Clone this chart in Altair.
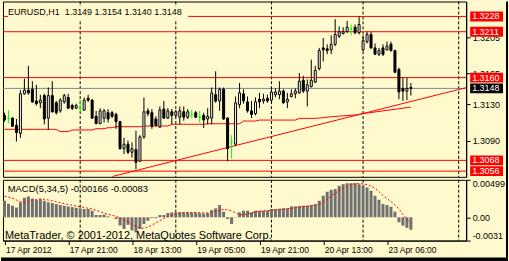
import altair as alt
import pandas as pd

# ---------------- data ----------------
bars = list(range(103))  # hourly bars from 17 Apr 05:00

opens = [1.3118,1.3115,1.3115,1.3107,1.3098,1.3142,1.3146,1.3147,1.3134,1.3132,
         1.3140,1.3115,1.3140,1.3132,1.3123,1.3133,1.3138,1.3129,1.3126,1.3126,
         1.3124,1.3137,1.3135,1.3117,1.3109,1.3115,1.3121,1.3121,1.3119,1.3111,
         1.3081,1.3086,1.3077,1.3080,1.3067,1.3094,1.3123,1.3121,1.3114,1.3105,
         1.3125,1.3115,1.3122,1.3118,1.3116,1.3122,1.3116,1.3119,1.3121,1.3116,
         1.3118,1.3114,1.3115,1.3141,1.3134,1.3147,1.3115,1.3088,1.3086,1.3130,
         1.3142,1.3133,1.3123,1.3120,1.3136,1.3134,1.3137,1.3135,1.3141,1.3141,
         1.3145,1.3133,1.3139,1.3142,1.3143,1.3157,1.3145,1.3150,1.3155,1.3170,
         1.3193,1.3192,1.3191,1.3197,1.3206,1.3209,1.3211,1.3214,1.3216,1.3210,
         1.3191,1.3200,1.3208,1.3193,1.3186,1.3193,1.3191,1.3197,1.3190,1.3169,
         1.3148,1.3145,1.3149]
highs = [1.3121,1.3124,1.3116,1.3114,1.3146,1.3159,1.3173,1.3156,1.3152,1.3141,
         1.3142,1.3149,1.3156,1.3134,1.3137,1.3142,1.3142,1.3131,1.3131,1.3135,
         1.3138,1.3141,1.3136,1.3123,1.3126,1.3125,1.3125,1.3123,1.3121,1.3112,
         1.3093,1.3090,1.3088,1.3101,1.3096,1.3138,1.3126,1.3125,1.3117,1.3128,
         1.3134,1.3126,1.3125,1.3124,1.3128,1.3128,1.3125,1.3124,1.3123,1.3123,
         1.3121,1.3126,1.3149,1.3167,1.3149,1.3149,1.3116,1.3096,1.3139,1.3154,
         1.3147,1.3139,1.3134,1.3138,1.3143,1.3142,1.3141,1.3149,1.3148,1.3156,
         1.3147,1.3143,1.3147,1.3148,1.3165,1.3162,1.3158,1.3180,1.3173,1.3193,
         1.3204,1.3197,1.3207,1.3225,1.3217,1.3216,1.3223,1.3219,1.3219,1.3228,
         1.3207,1.3211,1.3211,1.3198,1.3193,1.3197,1.3200,1.3200,1.3191,1.3171,
         1.3160,1.3160,1.3154]
lows = [1.3111,1.3109,1.3105,1.3089,1.3093,1.3141,1.3141,1.3132,1.3129,1.3126,
        1.3108,1.3102,1.3121,1.3119,1.3121,1.3131,1.3125,1.3124,1.3125,1.3122,
        1.3123,1.3133,1.3114,1.3108,1.3108,1.3110,1.3110,1.3115,1.3103,1.3080,
        1.3075,1.3075,1.3071,1.3058,1.3066,1.3092,1.3117,1.3103,1.3106,1.3104,
        1.3114,1.3114,1.3108,1.3116,1.3108,1.3112,1.3114,1.3115,1.3115,1.3110,
        1.3104,1.3108,1.3108,1.3132,1.3123,1.3113,1.3067,1.3070,1.3084,1.3126,
        1.3131,1.3121,1.3115,1.3118,1.3126,1.3131,1.3132,1.3132,1.3138,1.3136,
        1.3131,1.3126,1.3138,1.3137,1.3142,1.3143,1.3128,1.3149,1.3154,1.3168,
        1.3178,1.3186,1.3186,1.3195,1.3204,1.3208,1.3210,1.3207,1.3208,1.3208,
        1.3189,1.3198,1.3192,1.3185,1.3184,1.3184,1.3190,1.3189,1.3165,1.3136,
        1.3134,1.3135,1.3140]
closes = [1.3113,1.3115,1.3106,1.3099,1.3142,1.3146,1.3143,1.3133,1.3131,1.3135,
          1.3114,1.3140,1.3122,1.3121,1.3135,1.3140,1.3126,1.3126,1.3129,1.3126,
          1.3135,1.3135,1.3115,1.3109,1.3123,1.3123,1.3114,1.3117,1.3111,1.3081,
          1.3086,1.3077,1.3081,1.3066,1.3094,1.3122,1.3120,1.3106,1.3107,1.3124,
          1.3115,1.3123,1.3118,1.3122,1.3123,1.3116,1.3122,1.3119,1.3116,1.3116,
          1.3113,1.3117,1.3143,1.3134,1.3147,1.3114,1.3081,1.3088,1.3132,1.3143,
          1.3134,1.3123,1.3119,1.3133,1.3133,1.3136,1.3134,1.3144,1.3144,1.3145,
          1.3132,1.3136,1.3142,1.3145,1.3156,1.3145,1.3152,1.3157,1.3168,1.3190,
          1.3191,1.3190,1.3197,1.3208,1.3211,1.3211,1.3216,1.3214,1.3210,1.3219,
          1.3201,1.3208,1.3193,1.3186,1.3190,1.3186,1.3195,1.3190,1.3166,1.3144,
          1.3145,1.3148,1.3148]

ma_values = ([1.31025] * 14 + [1.31000] * 3 + [1.31018] * 6 + [1.31032] * 3 +
             [1.31043] * 2 + [1.31054] * 7 + [1.31062] * 7 + [1.31081] * 9 +
             [1.31087] * 9 + [1.31117] * 4 + [1.31128] * 10 + [1.31147] * 5 +
             [1.31150, 1.31155, 1.31160, 1.31165, 1.31168, 1.31172, 1.31175,
              1.31178, 1.31181, 1.31184, 1.31190] +
             [1.31200, 1.31206, 1.31212, 1.31218, 1.31224, 1.31230, 1.31236,
              1.31242, 1.31248, 1.31254, 1.31260, 1.31266, 1.31272])

# MACD histogram and signal, in thousandths
macd_hist_milli = [2.2,1.8,1.55,1.3,2.0,2.6,2.78,2.5,2.33,2.42,
                   2.2,2.0,1.9,1.76,1.63,1.54,1.45,1.36,1.27,1.19,
                   1.1,1.1,0.87,0.3,0.3,0.35,0.12,0.02,-0.23,-1.1,
                   -1.55,-1.0,-1.75,-2.0,-1.55,-0.89,-0.45,-0.12,-0.12,0.3,
                   0.3,0.57,0.65,0.65,0.68,0.65,0.65,0.62,0.6,0.55,
                   0.5,0.55,0.96,1.19,1.63,0.74,-0.23,-0.89,-0.05,0.65,
                   0.87,0.87,0.65,0.87,0.87,0.9,0.9,1.1,1.1,1.15,
                   1.2,1.2,1.45,1.45,1.5,1.54,1.54,1.63,1.76,2.2,
                   2.87,3.4,3.66,3.75,4.19,4.41,4.54,4.54,4.54,4.41,
                   4.19,3.97,3.53,2.87,2.33,1.76,1.63,1.4,0.75,-0.67,
                   -1.11,-1.4,-1.66]
macd_signal_milli = [2.8,2.7,2.55,2.3,2.1,2.0,2.1,2.25,2.35,2.45,
                     2.4,2.3,2.2,2.05,1.95,1.8,1.7,1.6,1.5,1.4,
                     1.3,1.2,1.1,0.95,0.75,0.55,0.4,0.25,0.15,-0.1,
                     -0.35,-0.6,-0.9,-1.2,-1.45,-1.45,-1.3,-1.05,-0.75,-0.45,
                     -0.15,0.1,0.3,0.45,0.55,0.6,0.65,0.65,0.63,0.62,
                     0.6,0.57,0.65,0.75,0.95,1.05,1.0,0.85,0.6,0.35,
                     0.3,0.45,0.6,0.75,0.8,0.85,0.9,0.93,0.97,1.02,
                     1.08,1.13,1.2,1.28,1.35,1.42,1.48,1.53,1.6,1.75,
                     2.0,2.4,2.8,3.2,3.55,3.9,4.15,4.35,4.45,4.5,
                     4.45,4.35,4.15,3.85,3.4,2.9,2.5,2.1,1.65,1.1,
                     0.4,-0.2,-0.83]

level_prices = [1.3228, 1.3211, 1.3160, 1.3068, 1.3056]
bid_price = 1.3148
separator_bars = [19, 43, 67, 90, 114]
trend_bars = [27, 116]
trend_prices = [1.3050, 1.3149]
price_ticks = [1.3205, 1.3165, 1.3130, 1.3090]
macd_ticks = [4.99, 0.0, -3.1]
macd_tick_labels = ["0.00499", "0.00", "-0.0031"]
x_tick_bars = [0, 16, 32, 48, 64, 80, 96]
x_tick_labels = ["17 Apr 2012", "17 Apr 21:00", "18 Apr 13:00", "19 Apr 05:00",
                 "19 Apr 21:00", "20 Apr 13:00", "23 Apr 06:00"]
macd_last = [-0.00166, -0.00083]
symbol = "EURUSD,H1"
copyright_text = "MetaTrader, \u00a9 2001-2012, MetaQuotes Software Corp."

# ---------------- styling ----------------
BG = "#FFFACD"
RED = "#FF0000"
FN = "Liberation Sans, Arial, sans-serif"
W, H_MAIN, H_MACD = 465, 176, 61

xs = alt.Scale(domain=[-0.375, 115.875], nice=False, zero=False)
ys = alt.Scale(domain=[1.30497, 1.32446], nice=False, zero=False)
ms = alt.Scale(domain=[-3.1, 4.99], nice=False, zero=False)

yax = alt.Axis(orient="right", values=price_ticks, format=".4f", tickSize=4,
               labelPadding=2, grid=False, title=None, domainColor="black",
               tickColor="black", labelColor="black", labelFont=FN,
               labelFontSize=9, labelFlush=False)
arr = lambda vals: "[" + ",".join(repr(v) for v in vals) + "]"
may = alt.Axis(orient="right", values=macd_ticks, tickSize=4, labelPadding=2,
               grid=False, title=None, domainColor="black", tickColor="black",
               labelColor="black", labelFont=FN, labelFontSize=9,
               labelFlush=True,
               labelExpr=arr(macd_tick_labels) + "[indexof(" + arr(macd_ticks) + ", datum.value)]")
xax = alt.Axis(values=x_tick_bars, tickSize=4, labelPadding=1, grid=False,
               title=None, domainColor="black", tickColor="black",
               labelColor="black", labelFont=FN, labelFontSize=8.5,
               labelAlign="left", labelBaseline="top", labelFlush=False,
               labelOverlap=False, labelOffset=1,
               labelExpr=arr(x_tick_labels) + "[indexof(" + arr(x_tick_bars) + ", datum.value)]")

one = pd.DataFrame({"k": [0]})

kind = ["doji" if o == c else ("up" if c > o else "down") for o, c in zip(opens, closes)]
candles = pd.DataFrame({"i": bars, "o": opens, "h": highs, "l": lows, "c": closes, "kind": kind})
candles["x1"] = candles["i"] - 0.25
candles["x2"] = candles["i"] + 0.25
kinds = ["up", "down", "doji"]

# ---------------- main price panel ----------------
sep_main = alt.Chart(pd.DataFrame({"b": separator_bars})).mark_rule(
    color="black", strokeDash=[3, 2], strokeWidth=1).encode(
    x=alt.X("b:Q", scale=xs, axis=None))
levels = alt.Chart(pd.DataFrame({"p": level_prices})).mark_rule(
    color=RED, strokeWidth=1).encode(y=alt.Y("p:Q", scale=ys, axis=yax))
bid = alt.Chart(pd.DataFrame({"p": [bid_price]})).mark_rule(
    color="#778899", strokeWidth=1).encode(y=alt.Y("p:Q", scale=ys, axis=yax))
ma = alt.Chart(pd.DataFrame({"i": bars, "m": ma_values})).mark_line(
    color=RED, strokeWidth=1).encode(
    x=alt.X("i:Q", scale=xs, axis=None), y=alt.Y("m:Q", scale=ys, axis=yax))
trend = alt.Chart(pd.DataFrame({"i": trend_bars, "p": trend_prices})).mark_line(
    color=RED, strokeWidth=1, clip=True).encode(
    x=alt.X("i:Q", scale=xs, axis=None), y=alt.Y("p:Q", scale=ys, axis=yax))
legend_str = "{}\u00a0 {:.4f} {:.4f} {:.4f} {:.4f}".format(
    symbol, opens[-1], highs[-1], lows[-1], closes[-1])
legend_box = alt.Chart(one).mark_rect(fill=BG).encode(
    x=alt.value(5), x2=alt.value(186), y=alt.value(5), y2=alt.value(18))
legend_txt = alt.Chart(one).mark_text(
    align="left", baseline="middle", font=FN, fontSize=9, color="black").encode(
    x=alt.value(5), y=alt.value(11), text=alt.value(legend_str))
wicks = alt.Chart(candles).mark_rule(strokeWidth=1).encode(
    x=alt.X("i:Q", scale=xs, axis=None),
    y=alt.Y("l:Q", scale=ys, axis=yax), y2="h:Q",
    color=alt.Color("kind:N", scale=alt.Scale(domain=kinds, range=["#000000", "#000000", "#00FF00"]), legend=None))
bodies = alt.Chart(candles).mark_rect(strokeWidth=1).encode(
    x=alt.X("x1:Q", scale=xs, axis=None), x2="x2:Q",
    y=alt.Y("o:Q", scale=ys, axis=yax), y2="c:Q",
    fill=alt.Fill("kind:N", scale=alt.Scale(domain=kinds, range=["#FFFFFF", "#000000", "#00FF00"]), legend=None),
    stroke=alt.Stroke("kind:N", scale=alt.Scale(domain=kinds, range=["#000000", "#000000", "#00FF00"]), legend=None))

box_prices = level_prices + [bid_price]
boxes_df = pd.DataFrame({
    "p": box_prices,
    "top": [p + 0.00055 for p in box_prices],
    "bot": [p - 0.00055 for p in box_prices],
    "label": ["{:.4f}".format(p) for p in box_prices],
    "col": [RED] * len(level_prices) + ["#000000"],
})
boxes = alt.Chart(boxes_df).mark_rect().encode(
    x=alt.value(469), x2=alt.value(502),
    y=alt.Y("top:Q", scale=ys, axis=yax), y2="bot:Q",
    fill=alt.Fill("col:N", scale=None))
box_txt = alt.Chart(boxes_df).mark_text(
    align="left", baseline="middle", font=FN, fontSize=9, color="white").encode(
    x=alt.value(471), y=alt.Y("p:Q", scale=ys, axis=yax), text="label:N")

main = alt.layer(sep_main, levels, bid, ma, trend, legend_box, legend_txt,
                 wicks, bodies, boxes, box_txt).properties(width=W, height=H_MAIN)

# ---------------- MACD panel ----------------
macd_df = pd.DataFrame({"i": bars, "v": macd_hist_milli, "s": macd_signal_milli})
macd_df["x1"] = macd_df["i"] - 0.375
macd_df["x2"] = macd_df["i"] + 0.375

sep_macd = alt.Chart(pd.DataFrame({"b": separator_bars})).mark_rule(
    color="black", strokeDash=[3, 2], strokeWidth=1).encode(
    x=alt.X("b:Q", scale=xs, axis=xax))
hist = alt.Chart(macd_df).mark_rect(fill="#707070").encode(
    x=alt.X("x1:Q", scale=xs, axis=xax), x2="x2:Q",
    y=alt.Y("v:Q", scale=ms, axis=may), y2=alt.datum(0))
signal = alt.Chart(macd_df).mark_line(color=RED, strokeWidth=1, strokeDash=[2, 2]).encode(
    x=alt.X("i:Q", scale=xs, axis=xax), y=alt.Y("s:Q", scale=ms, axis=may))
macd_txt = alt.Chart(one).mark_text(
    align="left", baseline="middle", font=FN, fontSize=9.5, color="black").encode(
    x=alt.value(4.7), y=alt.value(9),
    text=alt.value("MACD(5,34,5) {:.5f} {:.5f}".format(*macd_last)))
copy_txt = alt.Chart(one).mark_text(
    align="left", baseline="middle", font=FN, fontSize=11, color="black").encode(
    x=alt.value(2), y=alt.value(56), text=alt.value(copyright_text))
frame_bottom = alt.Chart(one).mark_rect(fill="#000000").encode(
    x=alt.value(-2), x2=alt.value(507), y=alt.value(78), y2=alt.value(82))
frame_right = alt.Chart(one).mark_rect(fill="#000000").encode(
    x=alt.value(505), x2=alt.value(507), y=alt.value(-179), y2=alt.value(82))

macd = alt.layer(sep_macd, hist, signal, macd_txt, copy_txt,
                 frame_bottom, frame_right).properties(width=W, height=H_MACD)

chart = alt.vconcat(main, macd, spacing=3, bounds="flush").properties(
    padding=0, background=BG).configure_view(stroke="black", strokeWidth=1)

chart.save("out.html", embed_options={"renderer": "svg", "actions": False})
